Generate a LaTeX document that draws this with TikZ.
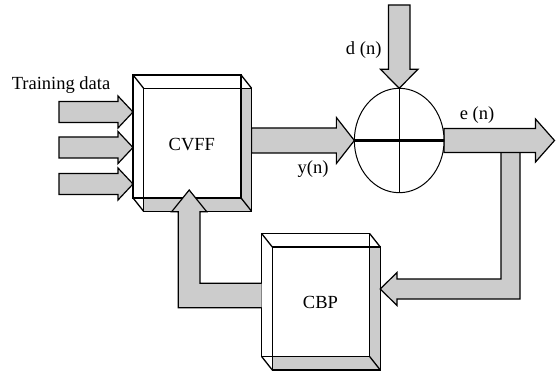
\documentclass[tikz,border=0pt]{standalone}
\usepackage{fontspec}
\setmainfont{Liberation Serif}
\usepackage{tikz}
\usetikzlibrary{calc, shapes.geometric}
\definecolor{blockgray}{gray}{0.8}
\tikzset{
    fatarrow/.style={fill=blockgray, draw=black, line width=1.2pt, line join=miter},
    fatedge/.style={draw=black, line width=1.2pt, line join=miter},
    boxline/.style={draw=black, line width=1.3pt},
    boxface/.style={rectangle, minimum width=108pt, minimum height=123pt, inner sep=0pt, outer sep=0pt},
    sumnode/.style={ellipse, minimum width=89.7pt, minimum height=104.4pt, inner sep=0pt, outer sep=0pt},
    textlabel/.style={font=\fontsize{18.5}{22}\selectfont, inner sep=0pt, anchor=base}
}

% straight block arrow: from, to, shaft half width, head half width, head length
\newcommand{\fatarrow}[5]{%
    \coordinate (hb) at ($(#2)!#5!(#1)$);
    \draw[fatarrow] ($(#1)!#3!90:(#2)$) -- ($(hb)!#3!90:(#2)$) -- ($(hb)!#4!90:(#2)$) -- (#2)
        -- ($(hb)!#4!-90:(#2)$) -- ($(hb)!#3!-90:(#2)$) -- ($(#1)!#3!-90:(#2)$) -- cycle;
}

% 3d block: name, centre, text
\newcommand{\cubeblock}[3]{%
    \coordinate (#1) at (#2);
    \node[boxface] (#1back) at ($(#1)+(-5.3,-6.7)$) {};
    \node[boxface] (#1front) at ($(#1)+(5.3,6.7)$) {};
    \fill[blockgray] (#1front.north west) rectangle (#1front.south east);
    \fill[white] (#1back.north west) rectangle (#1back.south east);
    \draw[boxline] (#1back.north west) rectangle (#1back.south east);
    \draw[boxline] (#1front.north west) rectangle (#1front.south east);
    \foreach \c in {north west, north east, south west, south east}
        \draw[boxline] (#1back.\c) -- (#1front.\c);
    \node[textlabel] (#1text) at ($(#1)+(-0.5,7)$) {#3};
}

\begin{document}
\begin{tikzpicture}[x=1pt, y=-1pt]
    \useasboundingbox (0,0) rectangle (556,374);

    % blocks
    \cubeblock{cvff}{192.3,143.1}{CVFF}
    \cubeblock{cbp}{320.9,301.7}{CBP}

    \node[sumnode] (sum) at (399.2,140.5) {};

    % training inputs
    \foreach \yy [count=\i] in {112,147.5,184} {
        \coordinate (tin\i) at (59,\yy);
        \coordinate (tend\i) at (cvffback.west |- tin\i);
        \fatarrow{tin\i}{tend\i}{10.5pt}{16pt}{15pt}
    }
    \node[textlabel] (train) at (61,90) {Training data};

    % y(n), d(n), e(n)
    \coordinate (yout) at (cvfffront.east |- sum.west);
    \fatarrow{yout}{sum.west}{12.5pt}{23pt}{18pt}
    \coordinate (din) at (sum.north |- 0,5);
    \fatarrow{din}{sum.north}{10.7pt}{18.7pt}{19pt}

    % feedback to CBP
    \coordinate (fbin) at (cbpfront.east |- 0,289);
    \fill[blockgray] (501,152.5) -- (501,279) -- (397,279) -- (397,272.5) -- (fbin)
        -- (397,305.5) -- (397,299) -- (520,299) -- (520,152.5) -- cycle;
    \draw[fatedge] (501,152.5) -- (501,279) -- (397,279) -- (397,272.5) -- (fbin)
        -- (397,305.5) -- (397,299) -- (520,299) -- (520,152.5);

    \coordinate (eend) at (554.5,0 |- sum.east);
    \fatarrow{sum.east}{eend}{12pt}{21.5pt}{19pt}

    % feedback to CVFF
    \coordinate (fbout) at (189.2,190);
    \fill[blockgray] (cbpback.west |- 0,283.3) -- (200,283.3) -- (200,211.7) -- (206.7,211.7) -- (fbout)
        -- (171.7,211.7) -- (178.3,211.7) -- (178.3,307.7) -- (cbpback.west |- 0,307.7) -- cycle;
    \draw[fatedge] (cbpback.west |- 0,283.3) -- (200,283.3) -- (200,211.7) -- (206.7,211.7) -- (fbout)
        -- (171.7,211.7) -- (178.3,211.7) -- (178.3,307.7) -- (cbpback.west |- 0,307.7);

    % summing junction, drawn over the arrow ends
    \node[sumnode, draw=black, fill=white, line width=1pt] (junction) at (sum) {};
    \draw[line width=1.3pt] (junction.north) -- (junction.south);
    \draw[line width=3pt] (junction.west) -- (junction.east);

    \node[textlabel] (dlabel) at (363.7,55) {d (n)};
    \node[textlabel] (elabel) at (477,119.6) {e (n)};
    \node[textlabel] (ylabel) at (313,173.6) {y(n)};
\end{tikzpicture}
\end{document}
